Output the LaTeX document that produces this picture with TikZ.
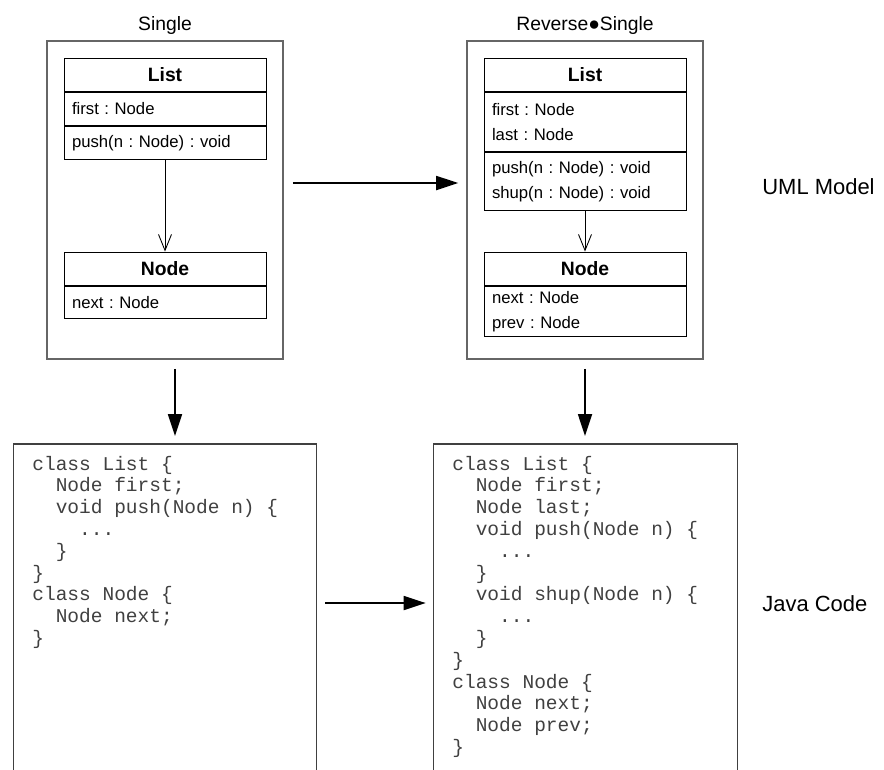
\documentclass[tikz,border=0pt]{standalone}
\usepackage{fontspec}
\setmainfont{Liberation Sans}
\setmonofont{Liberation Mono}
\usetikzlibrary{positioning,arrows.meta}
\frenchspacing

\newcommand{\indA}{\hspace*{1.2em}}
\newcommand{\indB}{\hspace*{2.4em}}
\newcommand{\codedots}{...}

\tikzset{
  pkg/.style={draw=black!60, line width=0.9pt, minimum width=4.72cm, minimum height=6.36cm, inner sep=0pt},
  cls/.style={draw, line width=0.5pt, minimum width=4.04cm, inner sep=0pt},
  clshead/.style={cls, minimum height=0.67cm, font=\fontsize{11}{13}\selectfont\bfseries},
  clsbody/.style={cls, text width=3.72cm, inner xsep=0.16cm, align=left, font=\fontsize{9.5}{14.2}\selectfont},
  assoc/.style={line width=0.5pt, -{Straight Barb[length=0.32cm,width=0.26cm]}},
  bigarrow/.style={line width=1pt, -{Triangle[length=0.44cm,width=0.28cm]}, shorten <=0.18cm, shorten >=0.16cm},
  codebox/.style={minimum width=6.04cm, minimum height=6.8cm, inner sep=0pt, anchor=north},
  codeline/.style={anchor=base west, inner sep=0pt, text=black!75, font=\ttfamily\fontsize{11.1}{12}\selectfont},
  pkgtitle/.style={anchor=base, inner sep=0pt, font=\fontsize{11}{13}\selectfont},
  sidetext/.style={anchor=west, inner sep=0pt, font=\fontsize{12.5}{15}\selectfont}
}

\begin{document}
\begin{tikzpicture}[x=0.02cm, y=-0.02cm]
    \useasboundingbox (0,0) rectangle (884,769);

    % UML model, single
    \node[pkgtitle] (t1) at (165,30) {Single};
    \node[pkg] (pkg1) at (165,200) {};
    \node[clshead] (l1h) at (165,74.75) {List};
    \node[clsbody, minimum height=0.66cm, below=0pt of l1h] (l1a) {first : Node};
    \node[clsbody, minimum height=0.66cm, below=0pt of l1a] (l1m) {push(n : Node) : void};
    \node[clshead] (n1h) at (165,268.75) {Node};
    \node[clsbody, minimum height=0.64cm, below=0pt of n1h] (n1a) {next : Node};
    \draw[assoc] (l1m.south) -- (n1h.north);

    % UML model, reverse single
    \node[pkgtitle] (t2) at (585,30) {Reverse●Single};
    \node[pkg] (pkg2) at (585,200) {};
    \node[clshead] (l2h) at (585,74.75) {List};
    \node[clsbody, minimum height=1.18cm, below=0pt of l2h] (l2a) {first : Node\\last : Node};
    \node[clsbody, minimum height=1.16cm, below=0pt of l2a] (l2m) {push(n : Node) : void\\shup(n : Node) : void};
    \node[clshead] (n2h) at (585,268.75) {Node};
    \node[clsbody, minimum height=1.0cm, below=0pt of n2h] (n2a) {next : Node\\prev : Node};
    \draw[assoc] (l2m.south) -- (n2h.north);

    \node[sidetext] (uml) at (762,187) {UML Model};

    % Java code
    \node[codebox] (code1) at (165,444) {};
    \node[codebox, minimum width=6.06cm] (code2) at (585.5,444) {};
    \draw[black!75, line width=0.7pt] (code1.south west) -- (code1.north west) -- (code1.north east) -- (code1.south east);
    \draw[black!75, line width=0.7pt] (code2.south west) -- (code2.north west) -- (code2.north east) -- (code2.south east);

    \foreach \ln [count=\i] in {class List \{, \indA Node first;, \indA void push(Node n) \{,
        \indB\codedots, \indA \}, \}, class Node \{, \indA Node next;, \}}
        \node[codeline] (ca-\i) at (32,{470+21.8*(\i-1)}) {\ln};

    \foreach \ln [count=\i] in {class List \{, \indA Node first;, \indA Node last;,
        \indA void push(Node n) \{, \indB\codedots, \indA \}, \indA void shup(Node n) \{,
        \indB\codedots, \indA \}, \}, class Node \{, \indA Node next;, \indA Node prev;, \}}
        \node[codeline] (cb-\i) at (452,{470+21.8*(\i-1)}) {\ln};

    \node[sidetext] (java) at (762,604) {Java Code};

    % transformations
    \coordinate (h1) at (0,183);
    \coordinate (h2) at (0,603);
    \coordinate (v1) at (175,0);
    \draw[bigarrow] (pkg1.east |- h1) -- (pkg2.west |- h1);
    \draw[bigarrow] (pkg1.south -| v1) -- (code1.north -| v1);
    \draw[bigarrow] (pkg2.south) -- (code2.north -| pkg2.south);
    \draw[bigarrow] (code1.east |- h2) -- (code2.west |- h2);
\end{tikzpicture}
\end{document}
